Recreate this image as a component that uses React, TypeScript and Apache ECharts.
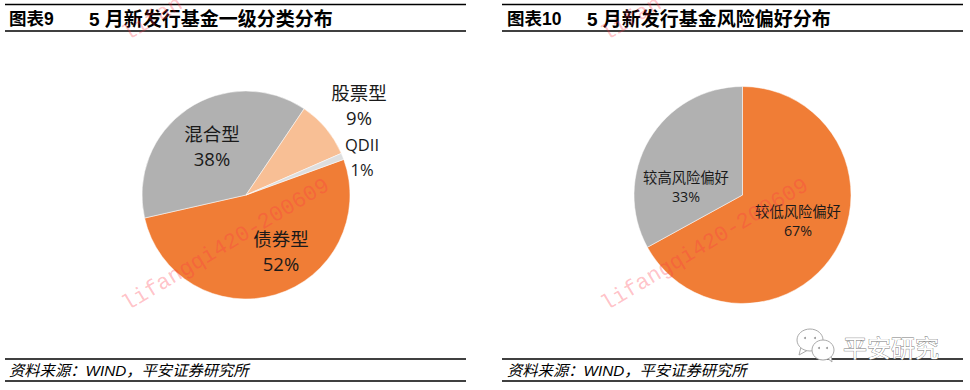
import React, { useEffect, useRef } from "react";
import * as echarts from "echarts";

const typeNames = ["债券型", "混合型", "股票型", "QDII"];
const typeValues = [52, 38, 9, 1];
const riskNames = ["较低风险偏好", "较高风险偏好"];
const riskValues = [67, 33];
const leftTitle = ["图表9", "5 月新发行基金一级分类分布"];
const rightTitle = ["图表10", "5 月新发行基金风险偏好分布"];
const sourceText = "资料来源：WIND，平安证券研究所";
const watermarkText = "lifangqi420-200609";
const watermarkTopText = "lifan";
const brandText = "平安研究";

const typeColors = ["#F07D36", "#B1B1B1", "#F8BF95", "#DEDEDE"];
const riskColors = ["#F07D36", "#B1B1B1"];
const typeLabelPos = [[281, 251], [212, 146], [359, 105], [362, 157]];
const riskLabelPos = [[798, 221], [686, 187]];
const typeLabelSizes = [18.5, 18.5, 18.5, 16.5];
const riskLabelSizes = [14.3, 14.3];

const CJK = '"Liberation Sans", "Noto Sans CJK SC", sans-serif';
const LABEL = '"Open Sans", "Noto Sans CJK SC", sans-serif';

function rule(x1: number, x2: number, y: number) {
  return { type: "line", shape: { x1, y1: y, x2, y2: y }, style: { stroke: "#000", lineWidth: 1.3 }, z: 10 };
}
function txt(x: number, y: number, text: string, size: number, extra: any = {}) {
  return {
    type: "text", x, y, z: 10,
    style: { text, fontSize: size, fontFamily: CJK, fill: "#000", verticalAlign: "middle", ...extra },
  };
}
function watermark(x: number, y: number, text: string) {
  return {
    type: "text", x, y, rotation: (31 * Math.PI) / 180, z: 20, silent: true,
    style: {
      text, fontSize: 22, fontFamily: '"Liberation Mono", monospace',
      fill: "rgba(255,50,70,0.3)", verticalAlign: "bottom",
    },
  };
}
function bubble(cx: number, cy: number, rx: number, ry: number, eye: number, tail: number[][]) {
  return [
    { type: "polygon", shape: { points: tail }, style: { fill: "#fff", stroke: "#aaa", lineWidth: 1 }, z: 11 },
    { type: "ellipse", shape: { cx, cy, rx, ry }, style: { fill: "#fff", stroke: "#aaa", lineWidth: 1 }, z: 11 },
    { type: "circle", shape: { cx: cx - eye, cy: cy - 2, r: 1 }, style: { fill: "#999" }, z: 12 },
    { type: "circle", shape: { cx: cx + eye, cy: cy - 2, r: 1 }, style: { fill: "#999" }, z: 12 },
  ];
}

function pie(names: string[], values: number[], colors: string[], pos: number[][], sizes: number[], cx: number, r: number, startAngle: number, lh: number) {
  return {
    type: "pie", center: [cx, 195], radius: [0, r], startAngle, clockwise: true, percentPrecision: 0,
    minAngle: 0, avoidLabelOverlap: false,
    itemStyle: { borderColor: "#fff", borderWidth: 0.5 },
    label: {
      show: true, position: "inside", formatter: "{b}\n{d}%", fontFamily: LABEL,
      color: "#1a1a1a", lineHeight: lh, align: "center", verticalAlign: "middle",
    },
    labelLine: { show: false },
    labelLayout: (p: any) => ({ x: pos[p.dataIndex][0], y: pos[p.dataIndex][1], align: "center", verticalAlign: "middle" }),
    data: names.map((name, i) => ({
      name, value: values[i], itemStyle: { color: colors[i] }, label: { fontSize: sizes[i] },
    })),
  };
}

export default function App() {
  const ref = useRef<HTMLDivElement>(null);
  useEffect(() => {
    const chart = echarts.init(ref.current!, null, { renderer: "svg" });
    chart.setOption({
      animation: false,
      backgroundColor: "#fff",
      series: [
        pie(typeNames, typeValues, typeColors, typeLabelPos, typeLabelSizes, 246, 104, 20, 25),
        pie(riskNames, riskValues, riskColors, riskLabelPos, riskLabelSizes, 742.5, 108.5, 90, 19),
      ],
      graphic: [
        rule(5, 466, 4.5), rule(5, 466, 31), rule(5, 466, 359), rule(5, 466, 381),
        rule(502, 963, 4.5), rule(502, 963, 31), rule(502, 963, 359), rule(502, 963, 381),
        txt(9, 19, leftTitle[0], 17.5, { fontWeight: "bold" }),
        txt(89, 19, leftTitle[1], 19, { fontWeight: "bold" }),
        txt(507, 19, rightTitle[0], 17.5, { fontWeight: "bold" }),
        txt(587, 19, rightTitle[1], 19, { fontWeight: "bold" }),
        txt(9, 370, sourceText, 15.3, { fontStyle: "italic" }),
        txt(507, 370, sourceText, 15.3, { fontStyle: "italic" }),
        watermark(130, 316, watermarkText), watermark(609, 316, watermarkText),
        watermark(130, 46, watermarkTopText), watermark(609, 46, watermarkTopText),
        ...bubble(810, 340, 13, 11, 5, [[801, 347], [799, 355], [808, 350]]),
        ...bubble(823, 350, 11, 10, 4, [[826, 357], [832, 362], [831, 355]]),
        txt(843, 348, brandText, 24, { fill: "#fff", stroke: "#777", lineWidth: 0.8 }),
      ],
    });
    return () => chart.dispose();
  }, []);
  return <div ref={ref} style={{ position: "fixed", left: 0, top: 0, width: 970, height: 390, background: "#fff" }} />;
}
